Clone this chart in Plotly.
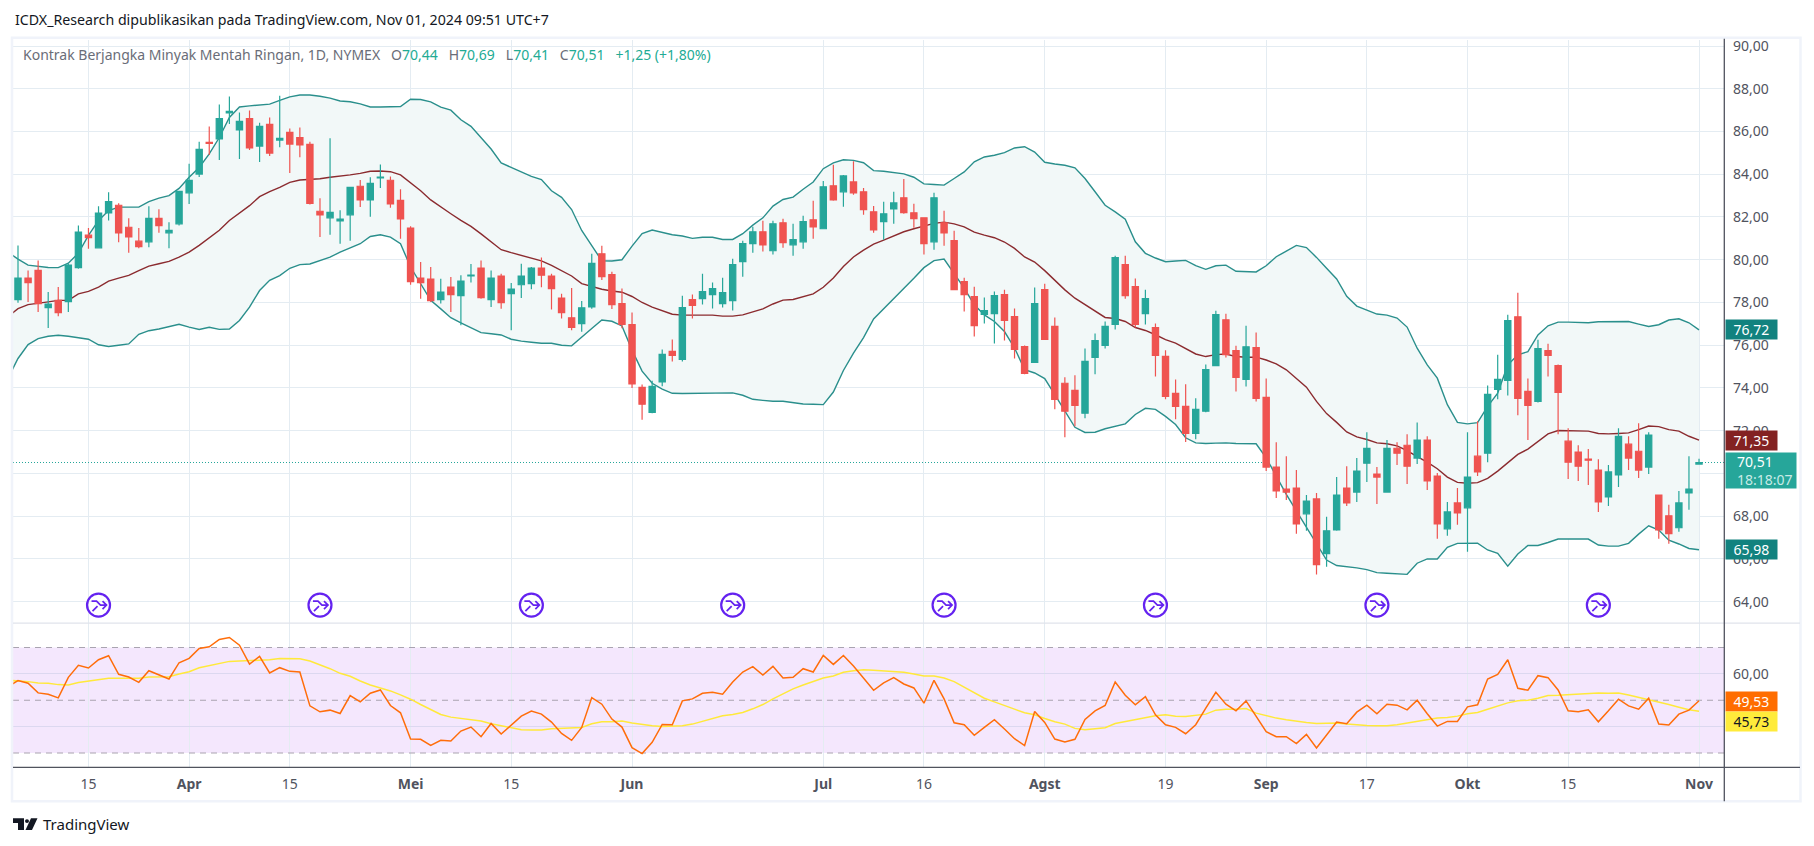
import plotly.graph_objects as go

# daily bars of the light crude contract
OPEN = [78.13, 79.14, 79.50, 77.76, 78.10, 78.04, 79.63, 81.15, 80.56, 82.19,
        82.55, 81.52, 80.87, 80.84, 81.94, 81.26, 81.68, 83.13, 84.01, 85.49,
        85.65, 86.87, 86.07, 86.61, 85.32, 86.33, 85.60, 85.96, 85.72, 85.40,
        82.27, 81.96, 81.82, 82.10, 83.44, 82.80, 83.83, 83.72, 82.78, 81.48,
        79.14, 79.10, 78.13, 78.72, 78.32, 79.24, 79.61, 78.13, 79.24, 78.41,
        78.83, 78.88, 79.61, 79.24, 78.21, 77.28, 77.01, 77.79, 80.28, 79.30,
        77.95, 76.97, 74.03, 72.86, 74.28, 75.71, 75.34, 78.14, 78.18, 78.37,
        77.95, 78.09, 79.91, 80.75, 81.31, 80.42, 81.73, 80.70, 80.84, 81.87,
        81.45, 83.46, 83.18, 83.64, 83.18, 82.24, 81.78, 82.38, 82.90, 82.20,
        81.96, 80.84, 81.73, 80.89, 78.98, 78.28, 77.44, 77.48, 78.37, 77.34,
        75.94, 75.20, 78.60, 76.88, 74.22, 73.89, 72.82, 75.43, 75.99, 76.97,
        79.77, 78.74, 77.48, 76.83, 75.48, 73.75, 73.14, 71.88, 72.91, 75.05,
        77.19, 75.75, 74.40, 75.89, 73.56, 70.30, 69.27, 69.32, 68.11, 68.81,
        66.25, 67.36, 69.32, 69.13, 70.48, 69.97, 69.13, 71.18, 71.32, 70.72,
        71.56, 69.88, 67.41, 68.62, 68.39, 70.81, 70.95, 73.93, 74.35, 77.33,
        73.84, 73.37, 75.75, 75.05, 71.51, 71.00, 70.67, 70.16, 68.90, 69.93,
        71.37, 71.04, 70.30, 68.99, 68.02, 67.46, 69.09, 70.44]
HIGH = [80.67, 79.50, 79.97, 78.49, 78.72, 79.81, 81.60, 81.48, 82.50, 83.16,
        82.64, 81.94, 81.48, 82.50, 82.36, 81.76, 83.20, 84.49, 85.52, 86.24,
        87.26, 87.64, 86.89, 86.98, 86.41, 86.66, 87.67, 86.14, 86.19, 85.52,
        82.88, 85.68, 82.32, 83.42, 83.73, 83.86, 84.46, 83.90, 83.30, 81.57,
        79.89, 79.66, 79.11, 79.19, 79.27, 79.80, 79.97, 79.50, 79.35, 78.91,
        79.81, 79.66, 80.11, 79.35, 78.41, 78.68, 78.07, 80.28, 80.66, 79.44,
        78.65, 77.53, 74.16, 74.34, 75.80, 76.27, 78.32, 78.37, 79.35, 78.93,
        79.16, 80.05, 80.89, 81.54, 81.82, 81.82, 81.92, 81.68, 82.06, 82.76,
        83.69, 84.44, 83.97, 84.61, 83.36, 82.52, 82.71, 83.18, 83.78, 82.62,
        81.96, 83.13, 82.29, 81.36, 79.16, 78.74, 78.23, 78.51, 78.60, 77.72,
        75.99, 78.70, 78.88, 77.30, 74.50, 74.59, 75.85, 76.55, 77.11, 80.19,
        80.19, 79.12, 78.60, 77.02, 75.76, 74.40, 74.17, 73.52, 75.10, 77.61,
        77.47, 75.98, 76.91, 76.59, 74.44, 71.46, 70.81, 70.16, 68.99, 69.09,
        67.97, 69.83, 70.34, 70.72, 71.93, 70.30, 71.56, 71.46, 71.84, 72.39,
        71.74, 70.02, 68.67, 69.32, 71.93, 72.44, 74.12, 75.56, 77.43, 78.45,
        74.44, 76.26, 76.07, 75.10, 72.11, 71.32, 71.14, 70.67, 70.39, 72.11,
        71.74, 72.35, 71.93, 68.99, 68.53, 69.18, 70.81, 70.69]
LOW = [77.99, 78.02, 77.56, 76.81, 77.36, 77.56, 79.58, 80.51, 80.54, 81.84,
       80.82, 80.33, 80.54, 80.59, 81.26, 80.54, 81.60, 82.61, 83.87, 84.90,
       84.67, 86.35, 84.71, 85.13, 84.57, 84.85, 85.26, 84.06, 84.79, 82.58,
       81.06, 81.17, 80.75, 80.89, 82.47, 82.01, 83.36, 82.43, 80.98, 78.83,
       78.18, 78.02, 77.95, 77.56, 76.94, 78.93, 78.18, 77.79, 77.71, 76.70,
       78.21, 78.62, 78.71, 77.67, 77.25, 76.70, 76.63, 77.71, 79.05, 77.69,
       76.80, 74.00, 72.51, 72.82, 74.08, 75.24, 75.24, 77.25, 77.90, 77.72,
       77.76, 77.62, 79.21, 80.33, 80.38, 80.24, 80.56, 80.19, 80.52, 80.98,
       81.45, 82.76, 82.48, 83.04, 82.10, 81.26, 80.94, 81.68, 82.15, 81.50,
       80.24, 80.47, 80.66, 78.60, 77.58, 76.41, 77.02, 76.08, 76.22, 75.38,
       74.64, 75.20, 76.27, 73.00, 71.70, 72.21, 72.58, 74.64, 75.85, 76.74,
       78.18, 76.83, 76.97, 74.54, 73.47, 72.54, 71.47, 71.60, 72.86, 75.05,
       75.42, 73.84, 74.07, 73.37, 70.11, 68.85, 68.76, 67.18, 67.32, 65.27,
       65.64, 67.32, 68.48, 68.67, 69.60, 68.57, 69.13, 70.39, 69.51, 70.44,
       69.23, 66.94, 67.08, 67.60, 66.34, 69.88, 70.53, 73.47, 73.65, 72.72,
       71.56, 73.32, 74.54, 71.84, 69.74, 69.65, 69.46, 68.20, 68.48, 69.37,
       70.16, 69.79, 69.97, 66.94, 66.71, 67.27, 68.30, 70.41]
CLOSE = [79.14, 78.93, 77.95, 77.93, 77.53, 79.75, 81.29, 81.03, 82.18, 82.72,
         81.26, 81.07, 80.61, 81.94, 81.59, 81.38, 83.20, 83.72, 85.16, 85.44,
         86.61, 86.94, 86.47, 85.23, 86.24, 84.99, 85.68, 85.41, 85.37, 82.64,
         82.10, 82.22, 81.90, 83.39, 82.80, 83.58, 83.87, 82.61, 81.91, 78.97,
         78.93, 78.09, 78.49, 78.37, 79.00, 79.28, 78.23, 79.14, 77.99, 78.63,
         79.24, 79.61, 79.28, 78.65, 77.53, 76.83, 77.75, 79.83, 79.21, 77.90,
         76.97, 74.19, 73.24, 74.08, 75.57, 75.52, 77.76, 77.86, 78.51, 78.65,
         78.46, 79.77, 80.75, 81.31, 80.70, 81.68, 80.80, 80.94, 81.78, 81.54,
         83.41, 82.80, 83.92, 83.13, 82.34, 81.40, 82.15, 82.66, 82.20, 81.92,
         80.75, 82.90, 81.26, 78.60, 78.37, 76.92, 77.62, 78.32, 77.16, 75.80,
         74.68, 77.95, 76.27, 73.47, 72.91, 73.19, 75.24, 76.22, 76.88, 80.10,
         78.32, 76.97, 78.18, 75.52, 73.61, 73.14, 71.88, 73.00, 74.86, 77.43,
         75.56, 74.49, 75.93, 73.51, 70.30, 69.18, 69.13, 67.64, 68.71, 65.73,
         67.32, 68.99, 68.62, 70.11, 71.18, 69.83, 71.18, 70.95, 70.34, 71.56,
         69.65, 67.64, 68.20, 68.16, 69.83, 70.07, 73.70, 74.40, 77.15, 73.51,
         73.19, 75.84, 75.52, 73.79, 70.53, 70.34, 70.62, 68.67, 70.07, 71.74,
         70.72, 70.16, 71.79, 67.36, 67.18, 68.62, 69.27, 70.51]

# indicator series start one bar earlier, that bar is cut by the left edge
BB_UPPER = [80.36, 80.03, 79.75, 79.69, 79.64, 79.63, 79.84, 80.31, 81.14, 81.84, 82.30,
            82.46, 82.46, 82.46, 82.72, 82.88, 83.00, 83.34, 83.86, 84.32, 84.95,
            85.72, 86.66, 87.15, 87.20, 87.25, 87.28, 87.46, 87.62, 87.71, 87.71,
            87.65, 87.56, 87.43, 87.39, 87.29, 87.15, 87.15, 87.15, 87.17, 87.51,
            87.50, 87.39, 87.14, 87.00, 86.55, 86.24, 85.72, 85.18, 84.53, 84.32,
            84.09, 83.90, 83.75, 83.23, 82.92, 82.35, 81.37, 80.67, 79.95, 79.94,
            80.00, 80.64, 81.22, 81.39, 81.29, 81.17, 81.11, 81.00, 81.05, 81.05,
            80.95, 80.95, 81.22, 81.62, 81.96, 82.51, 82.82, 82.93, 83.30, 83.64,
            84.26, 84.53, 84.68, 84.65, 84.54, 84.17, 84.14, 84.09, 84.02, 83.86,
            83.55, 83.52, 83.49, 83.80, 84.11, 84.58, 84.81, 84.89, 85.01, 85.23,
            85.29, 85.04, 84.56, 84.48, 84.42, 84.30, 83.80, 83.18, 82.55, 82.24,
            81.90, 80.84, 80.30, 80.08, 79.91, 79.94, 79.97, 79.72, 79.55, 79.72,
            79.75, 79.46, 79.43, 79.43, 79.72, 80.14, 80.40, 80.67, 80.57, 80.11,
            79.60, 79.10, 78.29, 77.83, 77.64, 77.46, 77.41, 77.27, 76.85, 75.86,
            75.08, 74.46, 73.22, 72.39, 72.32, 72.38, 73.14, 73.76, 75.08, 75.55,
            75.70, 76.48, 76.91, 77.08, 77.08, 77.05, 77.05, 77.10, 77.11, 77.11,
            77.11, 76.99, 76.88, 76.96, 77.18, 77.24, 77.05, 76.72]
BB_MIDDLE = [77.33, 77.71, 77.90, 77.98, 78.03, 78.10, 78.10, 78.40, 78.52, 78.72, 79.00,
             79.14, 79.27, 79.49, 79.70, 79.81, 79.92, 80.12, 80.36, 80.67, 81.01,
             81.38, 81.84, 82.19, 82.53, 82.95, 83.19, 83.39, 83.62, 83.73, 83.76,
             83.79, 83.86, 83.90, 83.97, 84.04, 84.14, 84.15, 84.12, 83.97, 83.62,
             83.23, 82.80, 82.46, 82.15, 81.84, 81.56, 81.21, 80.82, 80.47, 80.33,
             80.20, 80.09, 79.95, 79.74, 79.50, 79.24, 78.88, 78.76, 78.62, 78.54,
             78.48, 78.28, 78.00, 77.78, 77.62, 77.45, 77.41, 77.41, 77.41, 77.41,
             77.36, 77.36, 77.42, 77.56, 77.70, 77.93, 78.11, 78.14, 78.26, 78.40,
             78.71, 79.15, 79.68, 80.13, 80.45, 80.73, 80.92, 81.12, 81.31, 81.45,
             81.59, 81.70, 81.76, 81.68, 81.54, 81.29, 81.15, 81.03, 80.83, 80.53,
             80.13, 79.89, 79.49, 79.02, 78.59, 78.20, 77.89, 77.58, 77.30, 77.25,
             77.11, 76.83, 76.69, 76.49, 76.26, 76.10, 75.84, 75.59, 75.47, 75.56,
             75.59, 75.47, 75.44, 75.44, 75.31, 75.13, 74.85, 74.43, 74.04, 73.37,
             72.80, 72.39, 71.94, 71.71, 71.59, 71.43, 71.39, 71.29, 71.07, 70.79,
             70.53, 70.22, 69.83, 69.58, 69.54, 69.57, 69.77, 70.11, 70.52, 70.89,
             71.14, 71.48, 71.85, 72.01, 72.01, 72.01, 71.98, 71.87, 71.85, 71.87,
             71.90, 72.05, 72.22, 72.19, 72.05, 71.98, 71.74, 71.56]
BB_LOWER = [74.45, 75.38, 76.03, 76.31, 76.42, 76.47, 76.42, 76.36, 76.28, 76.02, 75.94,
            76.00, 76.06, 76.51, 76.68, 76.76, 76.88, 76.98, 76.85, 76.74, 76.84,
            76.74, 76.76, 77.16, 77.78, 78.56, 79.04, 79.26, 79.60, 79.77, 79.80,
            79.95, 80.12, 80.36, 80.54, 80.75, 81.09, 81.17, 81.06, 80.75, 79.66,
            78.87, 78.10, 77.70, 77.29, 77.05, 76.82, 76.59, 76.54, 76.48, 76.28,
            76.19, 76.14, 76.09, 76.09, 76.00, 75.97, 76.39, 76.78, 77.18, 77.12,
            76.90, 75.77, 74.79, 74.22, 73.95, 73.75, 73.74, 73.75, 73.77, 73.77,
            73.77, 73.77, 73.66, 73.47, 73.42, 73.38, 73.38, 73.33, 73.25, 73.24,
            73.22, 73.81, 74.82, 75.63, 76.36, 77.23, 77.70, 78.15, 78.63, 79.13,
            79.63, 79.96, 80.03, 79.32, 78.67, 77.89, 77.42, 77.11, 76.64, 75.87,
            74.86, 74.70, 74.44, 73.69, 72.91, 72.16, 71.92, 71.93, 72.09, 72.21,
            72.32, 72.76, 73.05, 73.00, 72.67, 72.29, 71.67, 71.43, 71.40, 71.42,
            71.43, 71.40, 71.39, 71.39, 70.73, 69.88, 69.02, 68.25, 67.47, 66.70,
            65.95, 65.69, 65.64, 65.58, 65.50, 65.36, 65.33, 65.30, 65.28, 65.80,
            66.00, 66.00, 66.54, 66.73, 66.74, 66.74, 66.42, 66.26, 65.66, 66.23,
            66.63, 66.63, 66.77, 66.93, 66.93, 66.93, 66.93, 66.65, 66.60, 66.60,
            66.73, 67.16, 67.55, 67.35, 66.88, 66.70, 66.49, 66.43]
RSI = [55.16, 57.42, 56.42, 52.77, 52.26, 50.88, 58.68, 63.21, 62.20, 65.35, 66.86,
       59.81, 58.81, 56.79, 61.19, 59.56, 58.05, 64.21, 65.85, 69.62, 70.25,
       73.02, 73.77, 70.88, 63.71, 66.60, 60.31, 62.33, 60.94, 60.69, 47.86,
       45.60, 46.23, 44.97, 51.76, 49.37, 52.64, 53.90, 47.99, 45.22, 35.28,
       35.16, 32.89, 34.78, 34.53, 38.30, 39.81, 36.16, 41.19, 37.17, 40.69,
       43.96, 45.85, 44.72, 41.70, 37.42, 34.78, 39.69, 51.01, 48.49, 42.83,
       39.81, 32.01, 29.75, 34.03, 40.82, 40.69, 49.75, 50.50, 52.64, 53.02,
       52.26, 56.92, 60.69, 62.70, 59.56, 62.83, 58.43, 58.68, 61.95, 60.69,
       66.98, 63.58, 66.98, 62.96, 58.55, 53.77, 56.54, 58.55, 56.16, 54.65,
       48.87, 57.55, 50.50, 41.45, 40.69, 36.67, 39.69, 42.58, 39.06, 35.41,
       32.77, 45.72, 41.57, 35.28, 34.15, 35.16, 42.70, 45.97, 47.99, 56.92,
       51.89, 48.24, 51.38, 44.47, 40.69, 39.69, 37.30, 40.69, 46.98, 53.02,
       48.49, 45.97, 49.75, 44.09, 38.05, 36.16, 36.16, 33.52, 37.04, 31.89,
       36.67, 41.70, 41.07, 45.47, 48.11, 44.84, 48.49, 48.11, 46.35, 50.00,
       44.84, 40.19, 41.95, 41.95, 47.48, 48.24, 58.05, 59.81, 65.35, 54.53,
       53.77, 59.31, 58.55, 53.90, 45.97, 45.60, 46.35, 41.82, 45.97, 50.38,
       47.86, 46.60, 50.75, 40.94, 40.57, 44.72, 46.23, 49.80]
RSI_MA = [57.55, 57.42, 57.04, 56.54, 56.42, 55.91, 55.79, 56.67, 57.17, 57.55, 58.30,
          58.30, 58.18, 58.30, 58.81, 58.81, 58.93, 59.94, 60.82, 62.33, 63.08,
          63.84, 64.72, 64.84, 64.97, 65.22, 65.35, 65.85, 65.72, 65.72, 64.84,
          63.46, 61.95, 60.19, 59.06, 57.30, 55.79, 54.65, 53.52, 52.01, 50.38,
          48.36, 46.35, 44.59, 43.58, 43.08, 42.58, 42.08, 41.07, 40.31, 39.56,
          38.81, 38.68, 38.68, 39.18, 39.31, 39.43, 39.69, 41.07, 41.82, 41.82,
          42.08, 41.32, 40.69, 40.31, 40.06, 40.06, 40.31, 40.94, 41.95, 43.21,
          44.09, 44.59, 45.35, 46.73, 48.36, 50.50, 52.52, 54.28, 55.79, 57.17,
          58.43, 59.18, 60.57, 61.19, 61.57, 61.32, 61.07, 60.82, 60.57, 59.94,
          59.18, 59.18, 58.43, 57.04, 54.91, 52.64, 50.75, 49.37, 47.86, 46.60,
          45.22, 44.47, 43.08, 41.82, 40.94, 39.31, 38.81, 39.18, 39.56, 41.19,
          41.95, 42.45, 43.46, 44.09, 44.47, 43.96, 43.84, 44.21, 44.72, 46.23,
          46.60, 46.60, 46.86, 45.09, 44.09, 43.21, 42.58, 41.95, 41.57, 41.19,
          41.19, 41.32, 40.94, 40.57, 40.44, 40.31, 40.31, 40.69, 41.32, 42.08,
          42.70, 43.21, 43.46, 43.96, 44.84, 45.35, 46.60, 47.74, 48.99, 49.75,
          50.00, 50.75, 51.76, 51.89, 52.14, 52.39, 52.77, 52.77, 52.64, 52.77,
          52.01, 51.13, 50.38, 49.25, 48.36, 47.36, 46.35, 45.85]

TICK_BARS = [7, 17, 27, 39, 49, 61, 80, 90, 102, 114, 124, 134, 144, 154, 167]
TICK_LABELS = ['15', '<b>Apr</b>', '15', '<b>Mei</b>', '15', '<b>Jun</b>', '<b>Jul</b>', '16',
               '<b>Agst</b>', '19', '<b>Sep</b>', '17', '<b>Okt</b>', '15', '<b>Nov</b>']
EVENT_BARS = [8, 30, 51, 71, 92, 113, 135, 157]
PRICE_TICKS = [64, 66, 68, 70, 72, 74, 76, 78, 80, 82, 84, 86, 88, 90]
# 70,00 and 40,00 sit fully behind the value tags in the chart
PRICE_TICK_LABELS = ['64,00', '66,00', '68,00', '', '72,00', '74,00', '76,00', '78,00', '80,00',
                     '82,00', '84,00', '86,00', '88,00', '90,00']
RSI_TICKS = [40, 60]
RSI_TICK_LABELS = ['', '60,00']
RSI_LEVELS = [70, 50, 30]

assert len(OPEN) == len(HIGH) == len(LOW) == len(CLOSE) == 168
assert len(BB_UPPER) == len(BB_MIDDLE) == len(BB_LOWER) == len(RSI) == len(RSI_MA) == 169

FONT = 'Noto Sans'
W, H = 1814, 846
GREEN, RED = '#26a69a', '#ef5350'
BAND_LINE = '#2a8f8c'
GRID = '#e4ecf2'
bars = list(range(len(OPEN)))
line_bars = list(range(-1, len(OPEN)))


def px(x):
    return x / W


def py(y):
    return 1 - y / H


def frame_line(x0, y0, x1, y1, color, width=1):
    return dict(type='line', xref='paper', yref='paper', x0=px(x0), x1=px(x1), y0=py(y0), y1=py(y1),
                line=dict(color=color, width=width), layer='above')


fig = go.Figure()

# bollinger bands
fig.add_trace(go.Scatter(x=line_bars, y=BB_UPPER, mode='lines', line=dict(color=BAND_LINE, width=1.4),
                         xaxis='x', yaxis='y', zorder=1))
fig.add_trace(go.Scatter(x=line_bars, y=BB_LOWER, mode='lines', line=dict(color=BAND_LINE, width=1.4),
                         fill='tonexty', fillcolor='#f2f8f8', xaxis='x', yaxis='y', zorder=1))
fig.add_trace(go.Scatter(x=line_bars, y=BB_MIDDLE, mode='lines', line=dict(color='#8b2b2f', width=1.4),
                         xaxis='x', yaxis='y', zorder=1))

fig.add_trace(go.Candlestick(x=bars, open=OPEN, high=HIGH, low=LOW, close=CLOSE,
                             increasing=dict(line=dict(color=GREEN, width=1.2), fillcolor=GREEN),
                             decreasing=dict(line=dict(color=RED, width=1.2), fillcolor=RED),
                             xaxis='x', yaxis='y', zorder=2))

# event markers along the bottom of the price pane
fig.add_trace(go.Scatter(x=EVENT_BARS, y=[63.84] * len(EVENT_BARS), mode='markers',
                         marker=dict(symbol='circle-open', size=23, color='#6422f0', line=dict(width=2.2)),
                         xaxis='x', yaxis='y', zorder=3))

# rsi pane
fig.add_trace(go.Scatter(x=line_bars, y=RSI_MA, mode='lines', line=dict(color='#ffe93b', width=1.5),
                         xaxis='x2', yaxis='y2'))
fig.add_trace(go.Scatter(x=line_bars, y=RSI, mode='lines', line=dict(color='#ff6d0a', width=1.5),
                         xaxis='x2', yaxis='y2'))

left_bar = (13 - 18) / 10.066
right_bar = (1724 - 18) / 10.066
common_x = dict(range=[left_bar, right_bar], tickmode='array', tickvals=TICK_BARS, showgrid=True,
                gridcolor=GRID, gridwidth=1.2, zeroline=False, showline=False, rangeslider=dict(visible=False))
common_y = dict(side='right', showgrid=True, zeroline=False, showline=False, tickmode='array',
                tickfont=dict(family=FONT, size=14, color='#50535e'), ticks='', ticklabelstandoff=8)

shapes = [
    # rsi background and levels
    dict(type='rect', xref='x2', yref='y2', x0=left_bar, x1=right_bar, y0=RSI_LEVELS[2], y1=RSI_LEVELS[0],
         fillcolor='#f4e7fd', line=dict(width=0), layer='below'),
]
for level in RSI_LEVELS:
    shapes.append(dict(type='line', xref='x2', yref='y2', x0=left_bar, x1=right_bar, y0=level, y1=level,
                       line=dict(color='#a9a4b0', width=1.1, dash='6px,5px'), layer='between'))
# last price line
shapes.append(dict(type='line', xref='x', yref='y', x0=left_bar, x1=right_bar, y0=CLOSE[-1], y1=CLOSE[-1],
                   line=dict(color='#26a69a', width=1.1, dash='1px,2px'), layer='between'))
# glyph inside the event circles
for bar in EVENT_BARS:
    shapes.append(dict(type='path', xref='x', yref='y', xsizemode='pixel', ysizemode='pixel',
                       xanchor=bar, yanchor=63.84,
                       path='M -7 4 L -2 4 L 2 0 L 8 0 M 4 4 L 8 0 L 4 -4 M -6 -6 L -1 -1',
                       line=dict(color='#6422f0', width=1.7)))
# chart frame
shapes += [
    dict(type='rect', xref='paper', yref='paper', x0=px(12), x1=px(1800.5), y0=py(801), y1=py(34),
         line=dict(color='#f0f3fa', width=2.5), layer='above'),
    frame_line(13, 622, 1800, 622, '#e0e3eb', 1.3),
    frame_line(1724.3, 35, 1724.3, 801, '#50535e', 1.3),
    frame_line(13, 767, 1800, 767, '#50535e', 1.3),
    # tradingview logo
    dict(type='path', xref='paper', yref='paper', fillcolor='#131722', line=dict(width=0),
         path=f'M {px(13)} {py(818)} L {px(24)} {py(818)} L {px(24)} {py(830)} L {px(18)} {py(830)} '
              f'L {px(18)} {py(823)} L {px(13)} {py(823)} Z'),
    dict(type='circle', xref='paper', yref='paper', fillcolor='#131722', line=dict(width=0),
         x0=px(25), x1=px(29), y0=py(823), y1=py(819)),
    dict(type='path', xref='paper', yref='paper', fillcolor='#131722', line=dict(width=0),
         path=f'M {px(31)} {py(818)} L {px(37.5)} {py(818)} L {px(32)} {py(830)} L {px(25.5)} {py(830)} Z'),
]


def value_span(letter, value):
    return f'<span style="color:#6a6d78">{letter}</span><span style="color:#22ab94">{value}</span>'


GAP = '\u00a0\u00a0\u00a0'
header = ('Kontrak Berjangka Minyak Mentah Ringan, 1D, NYMEX' + GAP
          + value_span('O', '70,44') + GAP + value_span('H', '70,69') + GAP
          + value_span('L', '70,41') + GAP + value_span('C', '70,51')
          + GAP + '<span style="color:#22ab94">+1,25 (+1,80%)</span>')

annotations = [
    dict(text='ICDX_Research dipublikasikan pada TradingView.com, Nov 01, 2024 09:51 UTC+7',
         x=px(12.5), y=py(15.5), font=dict(size=14.2, color='#131722')),
    dict(text=header, x=px(21), y=py(50.5), font=dict(size=14, color='#6a6d78')),
    dict(text='TradingView', x=px(41), y=py(824), font=dict(size=15, color='#131722')),
]
for a in annotations:
    a.update(xref='paper', yref='paper', xanchor='left', yanchor='middle', showarrow=False)
    a['font']['family'] = FONT


def tag(text, y_mid, bg, color='#ffffff', height=19, width=51, align='center'):
    annotations.append(dict(text=text, xref='paper', yref='paper', x=px(1725), y=py(y_mid),
                            xanchor='left', yanchor='middle', width=width, height=height,
                            bgcolor=bg, showarrow=False, align=align, borderpad=0,
                            font=dict(family=FONT, size=14, color=color)))


tag(f'{BB_UPPER[-1]:.2f}'.replace('.', ','), 327.5, '#12827f')
tag('71,35', 438.5, '#832222')
tag('\u00a0\u00a0\u00a070,51<br>\u00a0\u00a0\u00a0<span style="color:#c9ebe6">18:18:07</span>', 468.5, '#26a69a',
    height=35, width=70, align='left')
tag('65,98', 548, '#12827f')
tag('49,53', 700.5, '#ff6d00')
tag('45,73', 720.5, '#ffeb3b', color='#131722')

fig.update_layout(
    width=W, height=H, margin=dict(l=0, r=0, t=0, b=0),
    paper_bgcolor='#ffffff', plot_bgcolor='#ffffff', showlegend=False,
    separators=',.', boxgap=0.38, boxgroupgap=0,
    xaxis=dict(domain=[px(13), px(1724)], anchor='y', showticklabels=False, **common_x),
    xaxis2=dict(domain=[px(13), px(1724)], anchor='y2', matches='x', ticktext=TICK_LABELS,
                tickfont=dict(family=FONT, size=14, color='#50535e'), ticks='', ticklabelstandoff=7, **common_x),
    yaxis=dict(domain=[py(622), py(36)], anchor='x', range=[63.00, 90.29], tickvals=PRICE_TICKS,
               ticktext=PRICE_TICK_LABELS, gridcolor=GRID, gridwidth=1.2, **common_y),
    yaxis2=dict(domain=[py(767), py(622)], anchor='x2', range=[24.53, 79.25], tickvals=RSI_TICKS,
                ticktext=RSI_TICK_LABELS, gridcolor='#dcd8f0', gridwidth=1.2, **common_y),
    shapes=shapes, annotations=annotations,
)

fig.write_html('out.html', config={'displayModeBar': False},
               post_script="document.body.style.margin='0';document.body.style.overflow='hidden';")
